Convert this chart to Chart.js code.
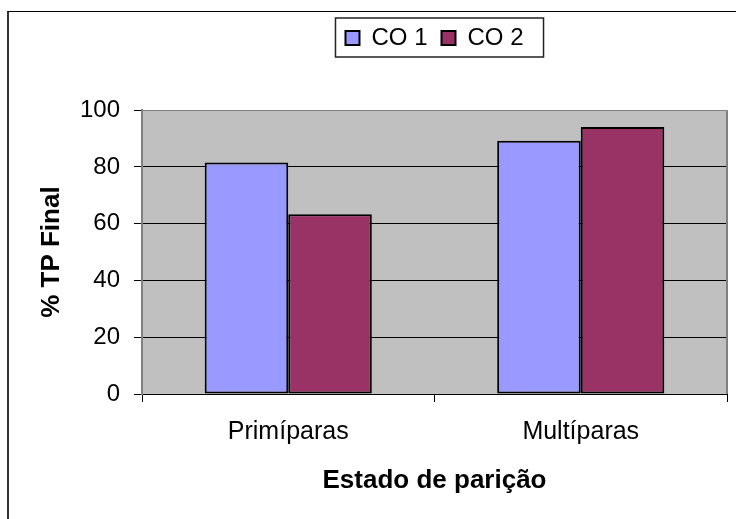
<!DOCTYPE html>
<html lang="pt">
<head>
  <meta charset="UTF-8">
  <title>% TP Final por estado de parição</title>
  <script src="https://cdn.jsdelivr.net/npm/chart.js"></script>
  <style>
    body { margin: 0; background: #ffffff; overflow: hidden; }
    .frame {
      position: absolute; left: 7px; top: 11px; width: 800px; height: 600px;
      border-left: 2px solid #333; border-top: 1px solid #000;
    }
    canvas { position: absolute; left: 0; top: 0; }
  </style>
</head>
<body>
  <div class="frame"></div>
  <canvas id="tpChart" width="736" height="519"></canvas>

  <script>
    const categories = ['Primíparas', 'Multíparas'];
    const seriesNames = ['CO 1', 'CO 2'];
    const co1Values = [81.6, 89.2];
    const co2Values = [63.3, 94.1];
    const yMin = 0, yMax = 100, yStep = 20;

    const font = 'Liberation Sans, Arial, sans-serif';

    // gray plot area like the old Excel default
    const plotBg = {
      id: 'plotBg',
      beforeDraw(chart) {
        const { ctx, chartArea: a } = chart;
        ctx.save();
        ctx.fillStyle = '#c0c0c0';
        ctx.fillRect(a.left, a.top, a.right - a.left, a.bottom - a.top);
        ctx.restore();
      },
      beforeDatasetsDraw(chart) {
        const { ctx, chartArea: a } = chart;
        ctx.save();
        ctx.strokeStyle = '#808080';
        ctx.lineWidth = 2;
        ctx.beginPath();
        ctx.moveTo(a.right, a.top);
        ctx.lineTo(a.right, a.bottom);
        ctx.stroke();
        ctx.restore();
      }
    };

    // box round the legend
    const legendFrame = {
      id: 'legendFrame',
      afterDraw(chart) {
        const hb = chart.legend.legendHitBoxes;
        if (!hb || !hb.length) return;
        const last = hb[hb.length - 1];
        const left = hb[0].left - 10, right = last.left + last.width + 20;
        const top = hb[0].top - 8, bottom = hb[0].top + 31;
        const ctx = chart.ctx;
        ctx.save();
        ctx.strokeStyle = '#222';
        ctx.lineWidth = 1.5;
        ctx.strokeRect(left, top, right - left, bottom - top);
        ctx.restore();
      }
    };

    new Chart(document.getElementById('tpChart'), {
      type: 'bar',
      data: {
        labels: categories,
        datasets: [
          { label: seriesNames[0], data: co1Values, backgroundColor: '#9999ff' },
          { label: seriesNames[1], data: co2Values, backgroundColor: '#993366' }
        ]
      },
      options: {
        responsive: false,
        animation: false,
        layout: { padding: { top: 12, right: 9, bottom: 0, left: 0 } },
        datasets: {
          bar: {
            borderColor: '#000', borderWidth: 2, borderSkipped: false,
            categoryPercentage: 2 / 3.5, barPercentage: 1
          }
        },
        scales: {
          x: {
            afterFit: s => { s.height = 125; },
            grid: { offset: true, drawOnChartArea: false, tickLength: 8, tickColor: '#000' },
            border: { color: '#000', width: 1 },
            ticks: { color: '#000', padding: 15, font: { family: font, size: 25 } },
            title: {
              display: true, text: 'Estado de parição', color: '#000',
              font: { family: font, size: 26, weight: 'bold' },
              padding: { top: 0, bottom: 23 }
            }
          },
          y: {
            min: yMin, max: yMax,
            afterFit: s => { s.width = 142; },
            grid: {
              color: c => (c.tick && c.tick.value === yMax ? '#808080' : '#000'),
              tickColor: '#000', tickLength: 8
            },
            border: { color: '#808080', width: 2 },
            ticks: { stepSize: yStep, color: '#000', padding: 14, font: { family: font, size: 24 } },
            title: {
              display: true, text: '% TP Final', color: '#000',
              font: { family: font, size: 26, weight: 'bold' },
              padding: { top: 36, bottom: 0 }
            }
          }
        },
        plugins: {
          legend: {
            position: 'top',
            fullSize: false,
            labels: {
              color: '#000', boxWidth: 14, boxHeight: 14, padding: 14,
              font: { family: font, size: 24 }
            }
          },
          // empty spacer between legend and plot
          title: { display: true, text: '', weight: 500, font: { size: 1 }, padding: { top: 0, bottom: 49 } },
          tooltip: { enabled: false }
        }
      },
      plugins: [plotBg, legendFrame]
    });
  </script>
</body>
</html>
